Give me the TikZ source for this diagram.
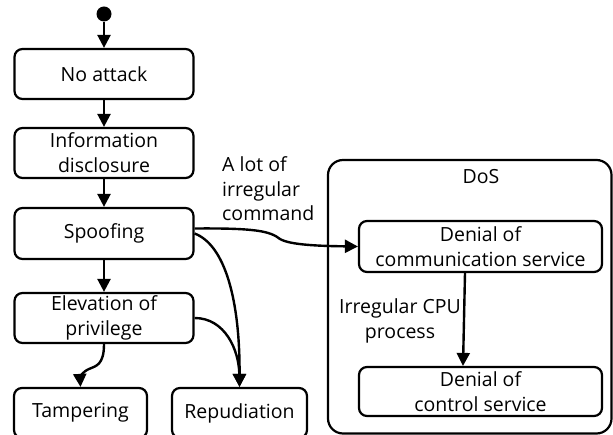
\documentclass[tikz,border=0pt]{standalone}
\usepackage{fontspec}
\setmainfont{Open Sans}
\usetikzlibrary{arrows.meta}
\begin{document}
\begin{tikzpicture}[x=1pt,y=-1pt,
  box/.style={draw,line width=2.2pt,rounded corners=8pt,align=center,inner sep=0pt,font=\fontsize{19.5}{25}\selectfont},
  lbl/.style={inner sep=0pt,font=\fontsize{19.5}{24.5}\selectfont},
  arr/.style={line width=2.4pt,-{Triangle[width=13pt,length=13pt]}}]
\useasboundingbox (0,0) rectangle (613,435);
\clip (0,0) rectangle (613,435);
\node[circle,fill,inner sep=0pt,minimum size=15pt] (init) at (104,14) {};
\node[box,minimum width=179pt,minimum height=50pt] (noatk) at (104,74) {No attack};
\node[box,minimum width=179pt,minimum height=50pt] (info) at (104,153) {Information\\disclosure};
\node[box,minimum width=179pt,minimum height=51pt] (spoof) at (104,233.5) {Spoofing};
\node[box,minimum width=179pt,minimum height=50pt] (elev) at (104,318) {Elevation of\\privilege};
\node[box,minimum width=133pt,minimum height=50pt] (tamp) at (80.5,413) {Tampering};
\node[box,minimum width=135pt,minimum height=50pt] (repud) at (239.5,413) {Repudiation};
\draw[line width=2.2pt,rounded corners=15pt] (328,160) rectangle (611.5,433.5);
\node[lbl] (doslbl) at (481,177) {DoS};
\node[box,minimum width=243pt,minimum height=51pt] (comm) at (480.5,246.5) {Denial of\\communication service};
\node[box,minimum width=243pt,minimum height=49pt] (ctrl) at (480.5,391.5) {Denial of\\control service};
\node[lbl,anchor=west,align=left] (cmdlbl) at (222,189) {A lot of\\irregular\\command};
\node[lbl,align=center] (cpulbl) at (400,321) {Irregular CPU\\process};
\draw[arr] (init) -- (noatk);
\draw[arr] (noatk) -- (info);
\draw[arr] (info) -- (spoof);
\draw[arr] (spoof) -- (elev);
\draw[arr] ([yshift=5pt]spoof.east) .. controls (255,228) and (270,231) .. (280,239) .. controls (290,245) and (320,246) .. (comm.west);
\draw[arr] (spoof.east) .. controls (225,245) and (240,300) .. (repud.north);
\draw[arr] (elev.east) .. controls (225,318) and (239,350) .. (repud.north);
\draw[arr] (elev.south) .. controls (104,365) and (96,366) .. (89,369) .. controls (82,372) and (80,378) .. (tamp.north);
\draw[arr] ([xshift=-15.5pt]comm.south) -- ([xshift=-17.5pt]ctrl.north);
\end{tikzpicture}
\end{document}
